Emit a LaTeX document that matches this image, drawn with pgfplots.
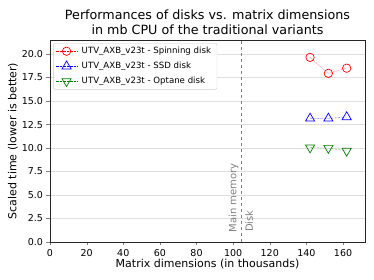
\documentclass[border=0pt]{standalone}
\usepackage{fontspec}
\setmainfont{DejaVu Sans}
\usepackage{pgfplots}
\pgfplotsset{compat=1.18}
\begin{document}
\begin{tikzpicture}
\begin{axis}[
  name=ax,
  scale only axis,
  width=315pt, height=202pt,
  xmin=0, xmax=172, ymin=0, ymax=21.5,
  xtick={0,20,...,160},
  ytick={0,2.5,...,20},
  yticklabel style={/pgf/number format/.cd,fixed,fixed zerofill,precision=1},
  /pgf/number format/assume math mode=true,
  tick label style={font=\fontsize{9.5}{11}\selectfont},
  label style={font=\fontsize{11}{13}\selectfont},
  xlabel={Matrix dimensions (in thousands)},
  ylabel={Scaled time (lower is better)},
  xlabel style={yshift=4pt},
  ylabel style={yshift=-3pt},
  title style={font=\fontsize{12.7}{14.5}\selectfont, align=center, yshift=-4pt},
  title={Performances of disks vs. matrix dimensions\\in mb CPU of the traditional variants},
  tick align=outside,
  xtick pos=bottom, ytick pos=left,
  major tick length=3.5pt,
  ymajorgrids,
  grid style={gray!25, line width=0.6pt},
  axis line style={black!85, line width=0.7pt},
  legend style={font=\fontsize{8.6}{10}\selectfont, draw=gray!40, rounded corners=1.5pt, inner xsep=2pt, inner ysep=2pt, row sep=3pt, at={(0.01,0.985)}, anchor=north west, nodes={inner xsep=4pt}},
  legend cell align=left,
  legend image code/.code={\draw[mark repeat=2, mark phase=2] plot coordinates {(0pt,0pt) (11pt,0pt) (22pt,0pt)};},
  clip=false,
]
\addplot[red, densely dotted, mark=o, mark size=4.2pt, mark options={solid, line width=0.7pt}] coordinates {(142,19.65) (152,17.95) (162,18.5)};
\addlegendentry{UTV\_AXB\_v23t - Spinning disk}
\addplot[blue, densely dotted, mark=triangle, mark size=5.3pt, mark options={solid, line width=0.7pt}] coordinates {(142,13.15) (152,13.15) (162,13.3)};
\addlegendentry{UTV\_AXB\_v23t - SSD disk}
\addplot[green!50!black, densely dotted, mark=triangle, mark size=5.3pt, mark options={solid, rotate=180, line width=0.7pt}] coordinates {(142,10.05) (152,10.0) (162,9.7)};
\addlegendentry{UTV\_AXB\_v23t - Optane disk}
\addplot[gray, dashed, forget plot] coordinates {(104.6,0) (104.6,21.5)};
\node[rotate=90, anchor=south west, text=gray, font=\fontsize{10}{12}\selectfont, inner sep=3pt] at (axis cs:104.6,0.7) {Main memory};
\node[rotate=90, anchor=north west, text=gray, font=\fontsize{10}{12}\selectfont, inner sep=3.5pt] at (axis cs:104.6,0.7) {Disk};
\end{axis}
\path[use as bounding box] ([xshift=-50pt,yshift=-38pt]ax.south west) rectangle ([xshift=9pt,yshift=40pt]ax.north east);
\end{tikzpicture}
\end{document}
